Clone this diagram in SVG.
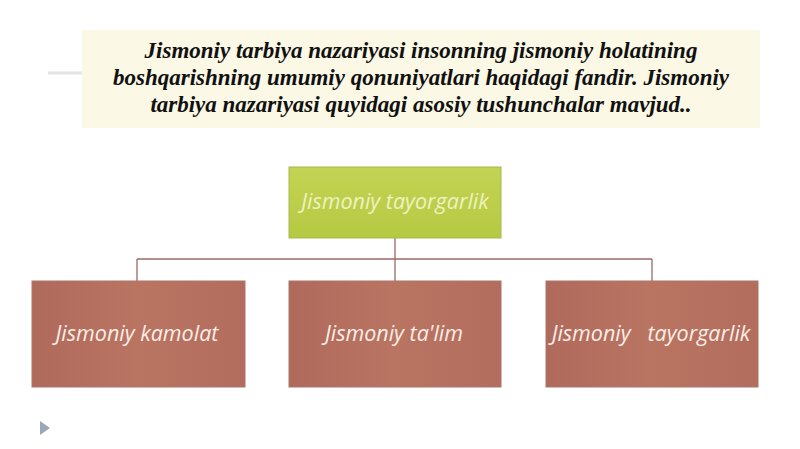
<svg xmlns="http://www.w3.org/2000/svg" width="800" height="449" viewBox="0 0 800 449">
<style>
.title{font-family:"Liberation Serif","Times New Roman",serif;font-weight:bold;font-style:italic;font-size:23px;fill:#111;text-anchor:middle}
.lbl{font-family:"Open Sans","DejaVu Sans",sans-serif;font-style:italic;font-size:21.5px;fill:#fbeee6;text-anchor:middle}
.top{font-family:"Open Sans","DejaVu Sans",sans-serif;font-style:italic;font-size:21.5px;fill:#eef2c0;text-anchor:middle}
.box{fill:url(#brown);stroke:#a9766a;stroke-width:1}
.conn{fill:none;stroke:#9a6a64;stroke-width:1.3}
</style>
<defs>
<linearGradient id="brown" x1="0" y1="0" x2="1" y2="0">
<stop offset="0" stop-color="#b06a5c"/>
<stop offset="0.5" stop-color="#ba7462"/>
<stop offset="1" stop-color="#b36d5d"/>
</linearGradient>
<linearGradient id="green" x1="0" y1="0" x2="0" y2="1">
<stop offset="0" stop-color="#c3d354"/>
<stop offset="1" stop-color="#b6c942"/>
</linearGradient>
</defs>
<rect width="800" height="449" fill="#ffffff"/>
<g id="title">
<rect x="82" y="30" width="678" height="98" fill="#fbf8e6"/>
<line x1="48" y1="73" x2="82" y2="73" stroke="#e4e4e4" stroke-width="3"/>
<text class="title" x="421" y="58">Jismoniy tarbiya nazariyasi insonning jismoniy holatining</text>
<text class="title" x="421" y="85">boshqarishning umumiy qonuniyatlari haqidagi fandir. Jismoniy</text>
<text class="title" x="421" y="112">tarbiya nazariyasi quyidagi asosiy tushunchalar mavjud..</text>
</g>
<g id="connectors">
<path class="conn" d="M395 238 V259 M137 259 H652 M137 259 V281 M395 259 V281 M652 259 V281"/>
</g>
<g id="node-top">
<rect x="289" y="167" width="212" height="71" fill="url(#green)" stroke="#a9b84a"/>
<text class="top" x="395" y="209">Jismoniy tayorgarlik</text>
</g>
<g id="node-kamolat">
<rect class="box" x="32" y="281" width="213" height="106"/>
<text class="lbl" x="137" y="341">Jismoniy kamolat</text>
</g>
<g id="node-talim">
<rect class="box" x="289" y="281" width="212" height="106"/>
<text class="lbl" x="394" y="341">Jismoniy ta'lim</text>
</g>
<g id="node-tayorgarlik">
<rect class="box" x="546" y="281" width="212" height="106"/>
<text class="lbl" x="651" y="341" xml:space="preserve">Jismoniy   tayorgarlik</text>
</g>
<polygon points="40,421 50,428 40,435" fill="#9aa7b8"/>
</svg>
